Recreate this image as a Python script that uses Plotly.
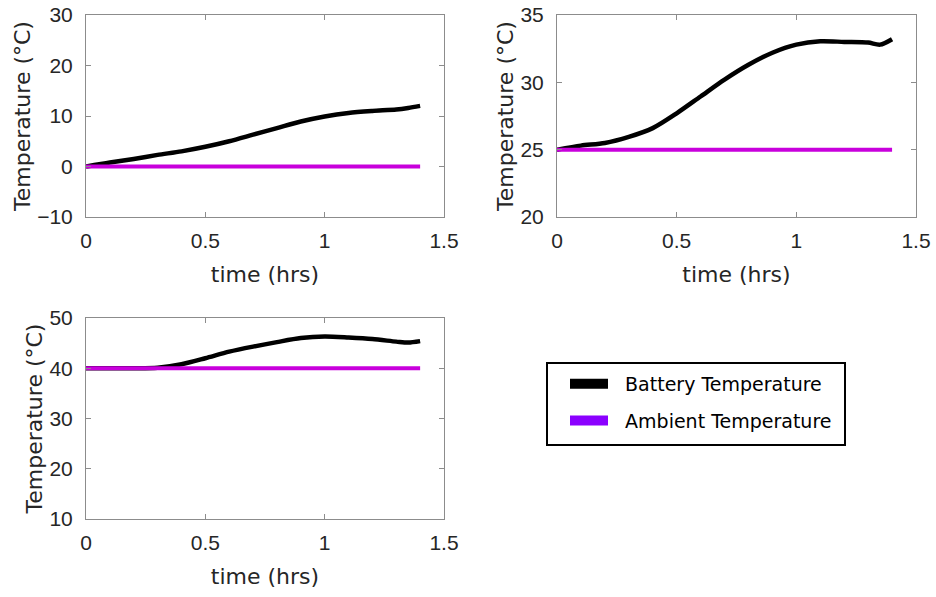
import plotly.graph_objects as go

# Time samples (hours)
time_hrs = [0.0, 0.1, 0.2, 0.3, 0.4, 0.5, 0.6, 0.7, 0.8, 0.9, 1.0, 1.1, 1.2, 1.3, 1.35, 1.4]

# Battery temperature for three ambient conditions (°C)
battery_0c = [0.0, 0.8, 1.5, 2.3, 3.0, 3.9, 5.0, 6.3, 7.6, 8.9, 9.9, 10.6, 11.0, 11.3, 11.6, 12.0]
battery_25c = [25.0, 25.3, 25.5, 25.95, 26.6, 27.7, 28.95, 30.2, 31.3, 32.2, 32.8, 33.05, 33.0, 32.95, 32.8, 33.2]
battery_40c = [40.0, 40.0, 40.0, 40.1, 40.8, 42.0, 43.3, 44.3, 45.2, 46.0, 46.3, 46.1, 45.8, 45.3, 45.1, 45.4]

# Ambient set points (°C)
ambient_levels = [0, 25, 40]

# Axis settings per panel
y_ranges = [[-10, 30], [20, 35], [10, 50]]
y_dtick = [10, 5, 10]
x_ticks = [0, 0.5, 1, 1.5]
x_tick_text = ["0", "0.5", "1", "1.5"]

BLACK = "#000000"
MAGENTA = "#C800DC"
VIOLET = "#8B00FF"
TEXT = "#262626"
FRAME = "#8c8c8c"

W, H = 936, 597

panels = [
    dict(x=[86 / W, 444 / W], y=[1 - 217 / H, 1 - 15 / H], batt=battery_0c),
    dict(x=[557 / W, 916 / W], y=[1 - 217 / H, 1 - 15 / H], batt=battery_25c),
    dict(x=[86 / W, 444 / W], y=[1 - 519 / H, 1 - 318 / H], batt=battery_40c),
]

fig = go.Figure()

layout = dict(
    width=W,
    height=H,
    margin=dict(l=0, r=0, t=0, b=0),
    paper_bgcolor="white",
    plot_bgcolor="white",
    font=dict(family="Liberation Sans, Arial, sans-serif", color=TEXT),
    showlegend=True,
)

for i, p in enumerate(panels):
    n = "" if i == 0 else str(i + 1)
    xa, ya = "x" + n, "y" + n
    fig.add_trace(go.Scatter(
        x=time_hrs, y=p["batt"], mode="lines", xaxis=xa, yaxis=ya,
        line=dict(color=BLACK, width=4.5, shape="spline", smoothing=0.8),
        showlegend=False, hoverinfo="skip",
    ))
    amb = [ambient_levels[i]] * len(time_hrs)
    fig.add_trace(go.Scatter(
        x=time_hrs, y=amb, mode="lines", xaxis=xa, yaxis=ya,
        line=dict(color=MAGENTA, width=4),
        showlegend=False, hoverinfo="skip",
    ))
    axis_common = dict(
        showgrid=False, zeroline=False, showline=True, mirror="ticks",
        linecolor=FRAME, linewidth=1, ticks="inside", ticklen=5,
        tickcolor=FRAME, tickfont=dict(size=21, color=TEXT), automargin=False,
    )
    layout["xaxis" + n] = dict(
        domain=p["x"], range=[0, 1.5], tickvals=x_ticks, ticktext=x_tick_text,
        anchor=ya, ticklabelstandoff=5,
        title=dict(text="time (hrs)", font=dict(size=22, family="DejaVu Sans", color=TEXT), standoff=15),
        **axis_common,
    )
    layout["yaxis" + n] = dict(
        domain=p["y"], range=y_ranges[i], dtick=y_dtick[i], anchor=xa,
        ticklabelstandoff=8,
        title=dict(text="Temperature (°C)", font=dict(size=22, family="DejaVu Sans", color=TEXT), standoff=0),
        **axis_common,
    )

# Legend entries
fig.add_trace(go.Scatter(
    x=[None], y=[None], mode="lines", name="  Battery Temperature",
    line=dict(color=BLACK, width=12), legendgroup="b",
))
fig.add_trace(go.Scatter(
    x=[None], y=[None], mode="lines", name="  Ambient Temperature",
    line=dict(color=VIOLET, width=12), legendgroup="a",
))

layout["legend"] = dict(
    x=565 / W, y=1 - 365 / H, xanchor="left", yanchor="top",
    borderwidth=0, bgcolor="rgba(0,0,0,0)",
    font=dict(family="DejaVu Sans", size=19, color="#000000"),
    itemwidth=38, tracegroupgap=9, traceorder="grouped",
)

# Legend frame
layout["shapes"] = [dict(
    type="rect", xref="paper", yref="paper",
    x0=547 / W, x1=845 / W, y0=1 - 445 / H, y1=1 - 363 / H,
    line=dict(color="#000000", width=2), fillcolor="rgba(0,0,0,0)", layer="below",
)]

fig.update_layout(**layout)
fig.write_html("out.html")
